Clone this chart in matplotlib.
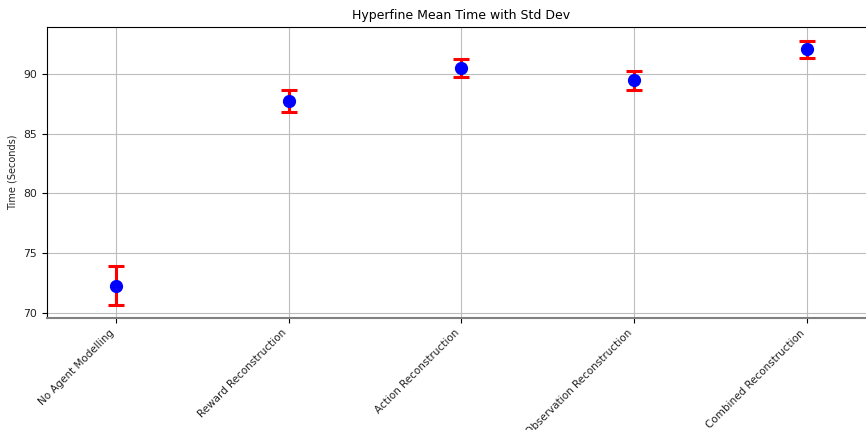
import matplotlib
matplotlib.use('Agg')
import matplotlib.pyplot as plt

methods = ['No Agent Modelling', 'Reward Reconstruction', 'Action Reconstruction',
           'Observation Reconstruction', 'Combined Reconstruction']
mean_time = [72.27, 87.73, 90.50, 89.45, 92.06]
std_time = [1.64, 0.90, 0.73, 0.83, 0.72]

fig = plt.figure(figsize=(8.66, 4.30), dpi=100)
ax = fig.add_axes([0.0543, 0.2605, 0.957, 0.6768])

ax.errorbar(range(len(methods)), mean_time, yerr=std_time, fmt='o', color='blue',
            ecolor='red', elinewidth=2.2, capsize=6, capthick=2.2, markersize=8.5, zorder=3)

ax.set_xticks(range(len(methods)))
ax.set_xticklabels(methods, rotation=45, ha='right', fontsize=7.5, color='#222222')
ax.tick_params(axis='y', labelsize=7.8, labelcolor='#222222')
ax.set_yticks([70, 75, 80, 85, 90])
ax.set_xlim(-0.4, 4.4)
ax.set_ylim(69.55, 93.93)

ax.set_ylabel('Time (Seconds)', fontsize=7, color='#222222')
ax.set_title('Hyperfine Mean Time with Std Dev', fontsize=9)
ax.grid(True, color='#bdbdbd', linewidth=0.8)
ax.spines['bottom'].set_color('#808080')
ax.spines['bottom'].set_linewidth(1.5)

fig.savefig('out.png', dpi=100)
